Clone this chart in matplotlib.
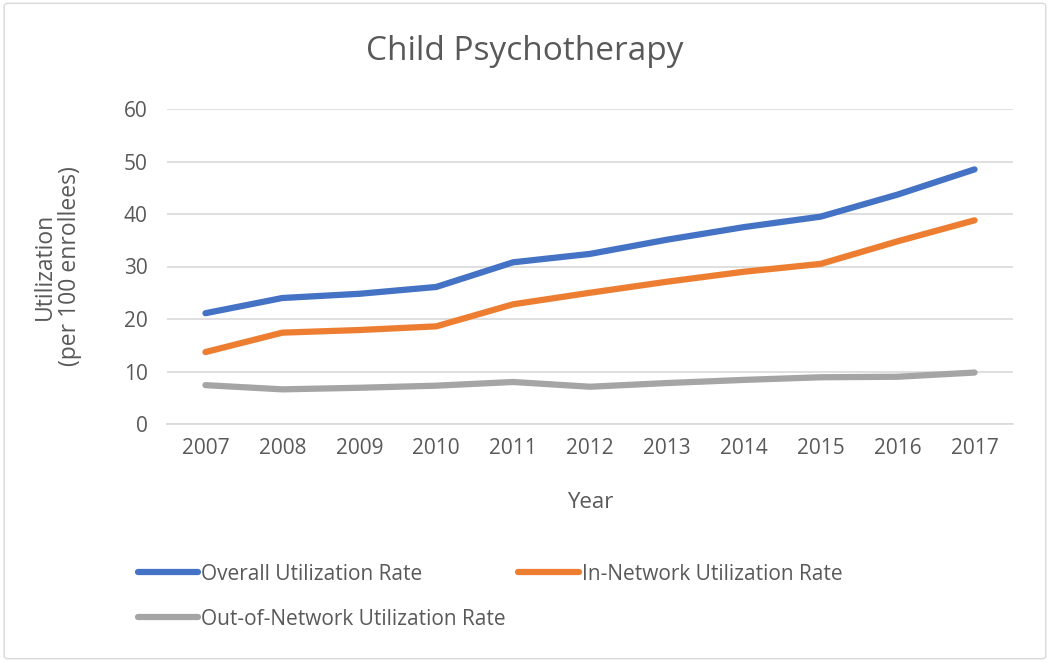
import matplotlib.pyplot as plt
from matplotlib.patches import FancyBboxPatch

years = ['2007', '2008', '2009', '2010', '2011', '2012', '2013', '2014', '2015', '2016', '2017']
overall = [21.1, 24.0, 24.8, 26.1, 30.8, 32.4, 35.1, 37.5, 39.5, 43.7, 48.5]
in_network = [13.7, 17.4, 17.9, 18.6, 22.8, 25.0, 27.1, 29.0, 30.5, 34.8, 38.8]
out_network = [7.4, 6.6, 6.9, 7.3, 8.0, 7.1, 7.8, 8.4, 8.9, 9.0, 9.8]

labels = ['Overall Utilization Rate', 'In-Network Utilization Rate', 'Out-of-Network Utilization Rate']
colors = ['#4472C4', '#ED7D31', '#A5A5A5']
txt = '#595959'

plt.rcParams['font.family'] = ['Open Sans', 'DejaVu Sans']

fig = plt.figure(figsize=(10.5, 6.62), dpi=100)
# chart border
fig.patches.append(FancyBboxPatch((0.004, 0.005), 0.992, 0.99, boxstyle='round,pad=0,rounding_size=0.004',
                                  transform=fig.transFigure, fill=False, edgecolor='#D9D9D9', linewidth=1))

ax = fig.add_axes([167 / 1050, 1 - 424 / 662, (1013 - 167) / 1050, (424 - 109) / 662])
x = range(len(years))
lines = []
for vals, lab, c in zip([overall, in_network, out_network], labels, colors):
    ln, = ax.plot(x, vals, color=c, linewidth=4.5, solid_capstyle='round', label=lab)
    lines.append(ln)

ax.set_xlim(-0.5, len(years) - 0.5)
ax.set_ylim(0, 60)
ax.set_yticks(range(0, 61, 10))
ax.set_xticks(list(x))
ax.set_xticklabels(years)
ax.grid(axis='y', color='#D9D9D9', linewidth=1.2)
ax.set_axisbelow(True)
for s in ['top', 'right', 'left']:
    ax.spines[s].set_visible(False)
ax.spines['bottom'].set_color('#D9D9D9')
ax.spines['bottom'].set_linewidth(1.2)
ax.tick_params(length=0, labelsize=15, colors=txt, pad=10)
ax.tick_params(axis='y', pad=14)

ax.set_xlabel('Year', fontsize=16, color=txt, labelpad=24)
ax.set_ylabel('Utilization\n(per 100 enrollees)', fontsize=16.5, color=txt, labelpad=30, linespacing=1.05)
fig.text(0.5, 1 - 52 / 662, 'Child Psychotherapy', ha='center', va='center', fontsize=24, color=txt)

# row order: Overall, In-Network / Out-of-Network
order = [0, 2, 1]
fig.legend([lines[i] for i in order], [labels[i] for i in order],
           loc='upper left', bbox_to_anchor=(119 / 1050, 1 - 545 / 662), ncol=2, frameon=False,
           fontsize=15, labelcolor=txt, handlelength=2.9, handletextpad=0.15, columnspacing=0.6,
           labelspacing=1.15)

fig.savefig('out.png', dpi=100)
